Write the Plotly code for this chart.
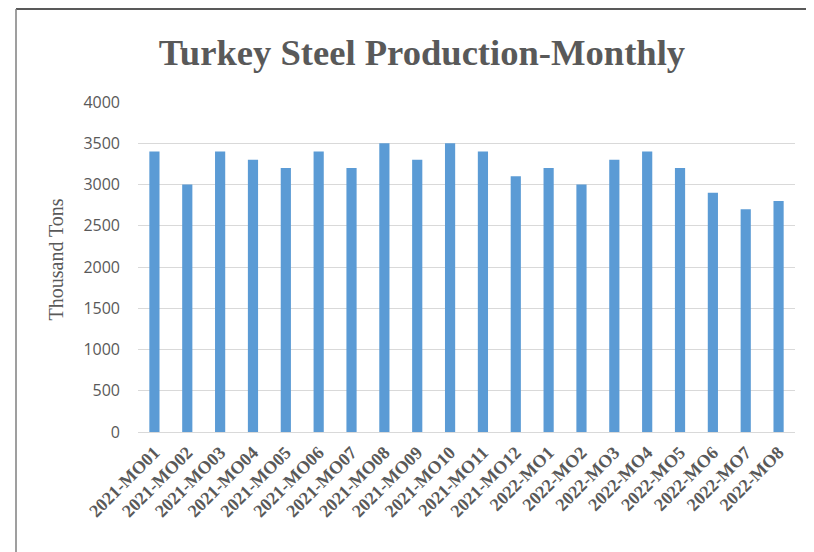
import plotly.graph_objects as go

categories = ["2021-MO01", "2021-MO02", "2021-MO03", "2021-MO04", "2021-MO05", "2021-MO06",
              "2021-MO07", "2021-MO08", "2021-MO09", "2021-MO10", "2021-MO11", "2021-MO12",
              "2022-MO1", "2022-MO2", "2022-MO3", "2022-MO4", "2022-MO5", "2022-MO6",
              "2022-MO7", "2022-MO8"]
production = [3400, 3000, 3400, 3300, 3200, 3400, 3200, 3500, 3300, 3500,
              3400, 3100, 3200, 3000, 3300, 3400, 3200, 2900, 2700, 2800]
y_ticks = [0, 500, 1000, 1500, 2000, 2500, 3000, 3500, 4000]

OFF = 8  # page body margin offset
W, H = 814, 552
L, R, T, B = 138 - OFF, 795 - OFF, 102 - OFF, 432 - OFF
pw, ph = R - L, B - T

def px(x):
    return (x - OFF - L) / pw

def py(y):
    return (B - (y - OFF)) / ph

fig = go.Figure(go.Bar(x=categories, y=production, marker_color="#5b9bd5",
                       marker_line_width=0))

fig.update_layout(
    width=W, height=H,
    margin=dict(l=L, r=W - R, t=T, b=H - B, pad=0),
    paper_bgcolor="white", plot_bgcolor="white",
    bargap=0.69,
    showlegend=False,
    title=dict(text="<b>Turkey Steel Production-Monthly</b>", x=px(422), xref="paper",
               xanchor="center", y=1 - (52 - OFF) / H, yanchor="middle",
               font=dict(family="Liberation Serif", size=36.6, color="#595959")),
    xaxis=dict(tickangle=-45, showgrid=False, showline=True, linecolor="#d9d9d9", linewidth=1,
               tickfont=dict(family="Liberation Serif", size=18, color="#595959", weight="bold"),
               ticks="", ticklabelstandoff=2),
    yaxis=dict(range=[0, 4000], tickvals=y_ticks, showgrid=True, gridcolor="#d9d9d9",
               gridwidth=1, zeroline=False, ticks="", ticklabelstandoff=17,
               tickfont=dict(family="Open Sans", size=16, color="#595959")),
)

fig.add_annotation(text="Thousand Tons", xref="paper", yref="paper", x=px(55), y=py(259.5),
                   xanchor="center", yanchor="middle", textangle=-90, showarrow=False,
                   font=dict(family="Liberation Serif", size=20, color="#595959"))

fig.add_shape(type="line", xref="paper", yref="paper", x0=px(16), x1=px(830), y0=py(9), y1=py(9),
              line=dict(color="#222222", width=1.5))
fig.add_shape(type="line", xref="paper", yref="paper", x0=px(16), x1=px(16), y0=py(9), y1=py(570),
              line=dict(color="#7f7f7f", width=1.5))

fig.write_html("out.html")
